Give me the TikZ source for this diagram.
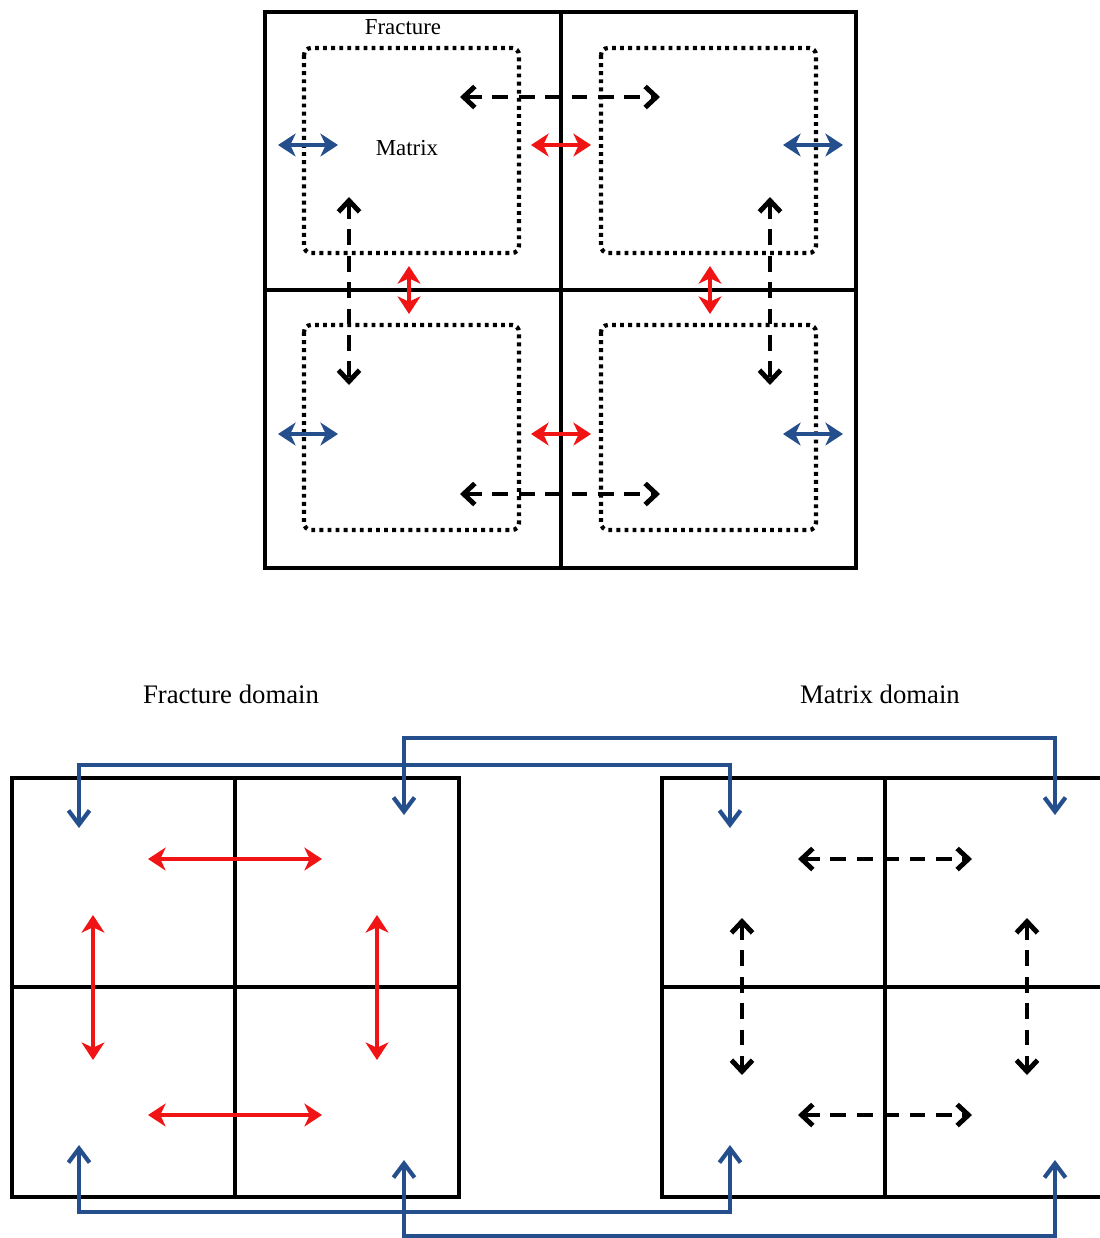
\documentclass[tikz,border=0pt]{standalone}
\usepackage{fontspec}
\setmainfont{Liberation Serif}
\usetikzlibrary{arrows.meta}
\definecolor{flowblue}{RGB}{36,78,140}
\definecolor{flowred}{RGB}{240,20,20}
\tikzstyle{grid} = [line width=0.9pt]
\tikzstyle{matrixbox} = [line width=1.2pt, dash pattern=on 1.1pt off 1.2pt, rounded corners=2pt]
\tikzstyle{exchange} = [line width=1.3pt, {Stealth[length=5pt,width=6.5pt,inset=1.5pt]}-{Stealth[length=5pt,width=6.5pt,inset=1.5pt]}]
\tikzstyle{fracflow} = [exchange, flowred]
\tikzstyle{transfer} = [exchange, flowblue]
\tikzstyle{matflow} = [line width=1.4pt, {Straight Barb[length=3.2pt,width=6pt]}-{Straight Barb[length=3.2pt,width=6pt]}, dash pattern=on 4.5pt off 3pt]
\tikzstyle{link} = [line width=1.2pt, flowblue, {Straight Barb[length=4pt,width=6pt]}-{Straight Barb[length=4pt,width=6pt]}]
\tikzstyle{label} = [inner sep=1pt]

\begin{document}
\begin{tikzpicture}[x=0.01cm, y=-0.01cm]
  \useasboundingbox (0,0) rectangle (1100,1238);

  % dual porosity cell
  \draw [grid] (265,12) rectangle (856,568);
  \draw [grid] (561,12) -- (561,568);
  \draw [grid] (265,290) -- (856,290);
  \foreach \x/\y in {304/48, 601/48, 304/325, 601/325}
    \draw [matrixbox] (\x,\y) rectangle ++(215,205);
  \node (frac) [label, font=\fontsize{6.5}{8}\selectfont] at (403,27) {Fracture};
  \node (mat) [label, font=\fontsize{6.5}{8}\selectfont] at (407,148) {Matrix};

  % matrix-matrix flow
  \foreach \y in {97, 494}
    \draw [matflow] (460,\y) -- (660,\y);
  \foreach \x in {349, 770}
    \draw [matflow] (\x,197) -- (\x,385);

  % fracture-fracture flow
  \foreach \y in {145, 434}
    \draw [fracflow] (531,\y) -- (591,\y);
  \foreach \x in {409, 710}
    \draw [fracflow] (\x,266) -- (\x,314);

  % matrix-fracture transfer
  \foreach \y in {145, 434} {
    \draw [transfer] (278,\y) -- (338,\y);
    \draw [transfer] (783,\y) -- (843,\y);
  }

  % split domains
  \node (fd) [label, font=\fontsize{7.6}{9}\selectfont] at (231,694) {Fracture domain};
  \node (md) [label, font=\fontsize{7.6}{9}\selectfont] at (880,694) {Matrix domain};

  \draw [grid] (12,778) rectangle (459,1197);
  \draw [grid] (235,778) -- (235,1197);
  \draw [grid] (12,987) -- (459,987);

  \draw [grid] (1100,778) -- (662,778) -- (662,1197) -- (1100,1197);
  \draw [grid] (885,778) -- (885,1197);
  \draw [grid] (662,987) -- (1100,987);

  \foreach \y in {859, 1115} {
    \draw [fracflow] (148,\y) -- (322,\y);
    \draw [matflow] (798,\y) -- (972,\y);
  }
  \foreach \x in {93, 377}
    \draw [fracflow] (\x,915) -- (\x,1060);
  \foreach \x in {742, 1027}
    \draw [matflow] (\x,918) -- (\x,1075);

  % links between domains
  \coordinate (ft1) at (79,828);   \coordinate (mt1) at (730,828);
  \coordinate (ft2) at (404,815);  \coordinate (mt2) at (1055,815);
  \coordinate (fb1) at (79,1145);  \coordinate (mb1) at (730,1145);
  \coordinate (fb2) at (404,1160); \coordinate (mb2) at (1055,1160);

  \draw [link] (ft1) -- (79,765) -- (730,765) -- (mt1);
  \draw [link] (ft2) -- (404,738) -- (1055,738) -- (mt2);
  \draw [link] (fb1) -- (79,1212) -- (730,1212) -- (mb1);
  \draw [link] (fb2) -- (404,1236) -- (1055,1236) -- (mb2);
\end{tikzpicture}
\end{document}
